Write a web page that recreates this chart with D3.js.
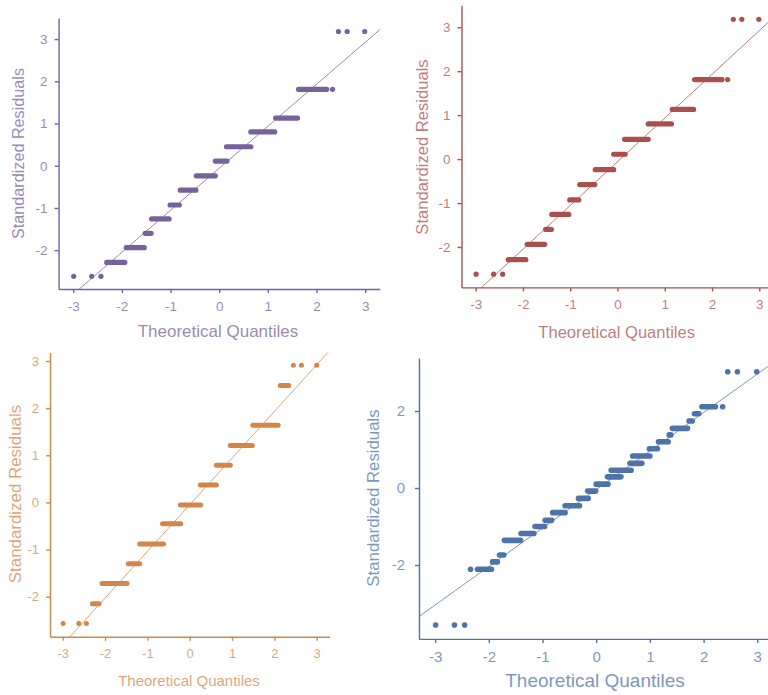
<!DOCTYPE html>
<meta charset="utf-8">
<style>
  body { margin: 0; background: #fff; }
  text { font-family: "Liberation Sans", Arial, sans-serif; }
</style>
<script src="https://cdn.jsdelivr.net/npm/d3@7"></script>
<div id="my_dataviz"></div>
<script>

// ---- data: one entry per run of tied residuals (from == to means a single point)
// the two top panels show the same residuals
var levelA = [-2.62, -2.62, -2.62, -2.29, -1.94, -1.60, -1.26, -0.93, -0.58, -0.24, 0.11, 0.45, 0.80, 1.13, 1.81, 1.81, 3.18, 3.18, 3.18];
var fromA  = [-2.99, -2.62, -2.43, -2.31, -1.91, -1.52, -1.39, -1.01, -0.80, -0.47, -0.08, 0.15, 0.65, 1.16, 1.63, 2.33, 2.45, 2.63, 2.99];
var toA    = [-2.99, -2.62, -2.43, -1.94, -1.54, -1.40, -1.03, -0.82, -0.48, -0.08, 0.16, 0.65, 1.14, 1.61, 2.21, 2.33, 2.45, 2.63, 2.99];

var levelB = [-2.57, -2.57, -2.57, -2.15, -1.72, -1.30, -0.88, -0.45, -0.055, 0.37, 0.79, 1.21, 1.635, 2.48, 2.91, 2.91, 2.91];
var fromB  = [-2.99, -2.62, -2.44, -2.30, -2.07, -1.45, -1.18, -0.64, -0.22, 0.25, 0.63, 0.96, 1.49, 2.14, 2.45, 2.64, 3.00];
var toB    = [-2.99, -2.62, -2.44, -2.14, -1.48, -1.18, -0.62, -0.21, 0.26, 0.63, 0.96, 1.48, 2.09, 2.34, 2.45, 2.64, 3.00];

var levelC = [-3.56, -3.56, -3.56, -2.11, -2.11, -1.92, -1.74, -1.36, -1.18, -1.00, -0.84, -0.64, -0.46, -0.27, -0.08, 0.10,
              0.29, 0.46, 0.64, 0.83, 1.02, 1.20, 1.38, 1.55, 1.74, 1.93, 2.11, 2.11, 3.02, 3.02, 3.02];
var fromC  = [-2.99, -2.64, -2.45, -2.34, -2.21, -1.93, -1.80, -1.71, -1.40, -1.14, -0.95, -0.81, -0.58, -0.33, -0.16, 0.00,
              0.21, 0.28, 0.63, 0.68, 0.99, 1.16, 1.36, 1.42, 1.73, 1.83, 1.97, 2.355, 2.45, 2.63, 2.99];
var toC    = [-2.99, -2.64, -2.45, -2.34, -1.95, -1.84, -1.72, -1.41, -1.16, -0.96, -0.83, -0.58, -0.31, -0.15, -0.01, 0.22,
              0.46, 0.65, 0.85, 1.00, 1.14, 1.34, 1.39, 1.70, 1.79, 1.91, 2.22, 2.355, 2.45, 2.63, 2.99];

// reference line y = slope * x + intercept, per panel
var lineSlope     = [0.995, 0.995, 0.99, 1.0];
var lineIntercept = [-0.06, -0.06, -0.05, -0.04];

var xTickValues = [-3, -2, -1, 0, 1, 2, 3];
var xTitle = "Theoretical Quantiles";
var yTitle = "Standardized Residuals";

// ---- layout of the four panels
var panels = [
  { color: "#76619b", level: levelA, from: fromA, to: toA,
    xRange: [58.6, 379.8], yRange: [289, 18], yDomain: [-2.92, 3.5], yTicks: [-2, -1, 0, 1, 2, 3],
    tickFont: 13.5, yPad: 7, r: 2.6, xt: [218, 331, 17], yt: [18.3, 153.5, 16.2] },
  { color: "#a9504f", level: levelA, from: fromA, to: toA,
    xRange: [461.5, 773.5], yRange: [287.4, 5.3], yDomain: [-2.92, 3.5], yTicks: [-2, -1, 0, 1, 2, 3],
    tickFont: 13.5, yPad: 7, r: 2.6, xt: [616.7, 331.7, 16.6], yt: [422, 147, 16.6] },
  { color: "#d2864a", level: levelB, from: fromB, to: toB,
    xRange: [50.0, 329.4], yRange: [636.8, 352.5], yDomain: [-2.85, 3.18], yTicks: [-2, -1, 0, 1, 2, 3],
    tickFont: 13, yPad: 7, r: 2.5, xt: [189, 680.7, 15], yt: [15, 494, 16.9] },
  { color: "#4e73a8", level: levelC, from: fromC, to: toC,
    xRange: [419, 773.4], yRange: [638.9, 357.9], yDomain: [-3.92, 3.38], yTicks: [-2, 0, 2],
    tickFont: 15, yPad: 10, r: 2.8, xt: [595, 680.7, 19], yt: [373.3, 498, 16.8] }
];

var svg = d3.select("#my_dataviz")
  .append("svg")
    .attr("width", 768)
    .attr("height", 695);

panels.forEach(function(p, i) {

  var x = d3.scaleLinear().domain([-3.3, 3.3]).range(p.xRange);
  var y = d3.scaleLinear().domain(p.yDomain).range(p.yRange);

  var g = svg.append("g");

  // clip for the reference line
  g.append("clipPath").attr("id", "clip" + i)
    .append("rect")
      .attr("x", p.xRange[0]).attr("y", p.yRange[1])
      .attr("width", p.xRange[1] - p.xRange[0])
      .attr("height", p.yRange[0] - p.yRange[1]);

  // X axis
  var xAxis = g.append("g")
    .attr("transform", "translate(0," + p.yRange[0] + ")")
    .call(d3.axisBottom(x).tickValues(xTickValues).tickSize(4).tickPadding(8)
      .tickSizeOuter(0).tickFormat(function(d) { return String(d); }));

  // Y axis
  var yAxis = g.append("g")
    .attr("transform", "translate(" + p.xRange[0] + ",0)")
    .call(d3.axisLeft(y).tickValues(p.yTicks).tickSize(4).tickPadding(p.yPad)
      .tickSizeOuter(0).tickFormat(function(d) { return String(d); }));

  [xAxis, yAxis].forEach(function(a) {
    a.select(".domain").attr("stroke", p.color).attr("stroke-width", 1.4);
    a.selectAll(".tick line").attr("stroke", p.color).attr("stroke-width", 1.4);
    a.selectAll(".tick text")
      .attr("fill", p.color).attr("fill-opacity", 0.75)
      .style("font-size", p.tickFont + "px")
      .style("font-family", "'Liberation Sans', Arial, sans-serif");
  });

  // reference line
  g.append("line")
    .attr("clip-path", "url(#clip" + i + ")")
    .attr("x1", x(-3.3)).attr("y1", y(lineSlope[i] * -3.3 + lineIntercept[i]))
    .attr("x2", x(3.3)).attr("y2", y(lineSlope[i] * 3.3 + lineIntercept[i]))
    .attr("stroke", p.color).attr("stroke-opacity", 0.75).attr("stroke-width", 1);

  // runs of tied residuals
  var idx = d3.range(p.level.length);
  g.selectAll("line.run")
    .data(idx.filter(function(k) { return p.from[k] !== p.to[k]; }))
    .enter().append("line")
      .attr("class", "run")
      .attr("x1", function(k) { return x(p.from[k]); })
      .attr("x2", function(k) { return x(p.to[k]); })
      .attr("y1", function(k) { return y(p.level[k]); })
      .attr("y2", function(k) { return y(p.level[k]); })
      .attr("stroke", p.color)
      .attr("stroke-width", p.r * 2)
      .attr("stroke-linecap", "round");

  g.selectAll("circle.pt")
    .data(idx.filter(function(k) { return p.from[k] === p.to[k]; }))
    .enter().append("circle")
      .attr("class", "pt")
      .attr("cx", function(k) { return x(p.from[k]); })
      .attr("cy", function(k) { return y(p.level[k]); })
      .attr("r", p.r)
      .attr("fill", p.color);

  // axis titles
  g.append("text")
    .attr("x", p.xt[0]).attr("y", p.xt[1]).attr("dy", "0.35em")
    .attr("text-anchor", "middle")
    .attr("fill", p.color).attr("fill-opacity", 0.75)
    .style("font-size", p.xt[2] + "px")
    .text(xTitle);

  g.append("text")
    .attr("transform", "translate(" + p.yt[0] + "," + p.yt[1] + ") rotate(-90)")
    .attr("dy", "0.35em")
    .attr("text-anchor", "middle")
    .attr("fill", p.color).attr("fill-opacity", 0.75)
    .style("font-size", p.yt[2] + "px")
    .text(yTitle);
});

</script>
